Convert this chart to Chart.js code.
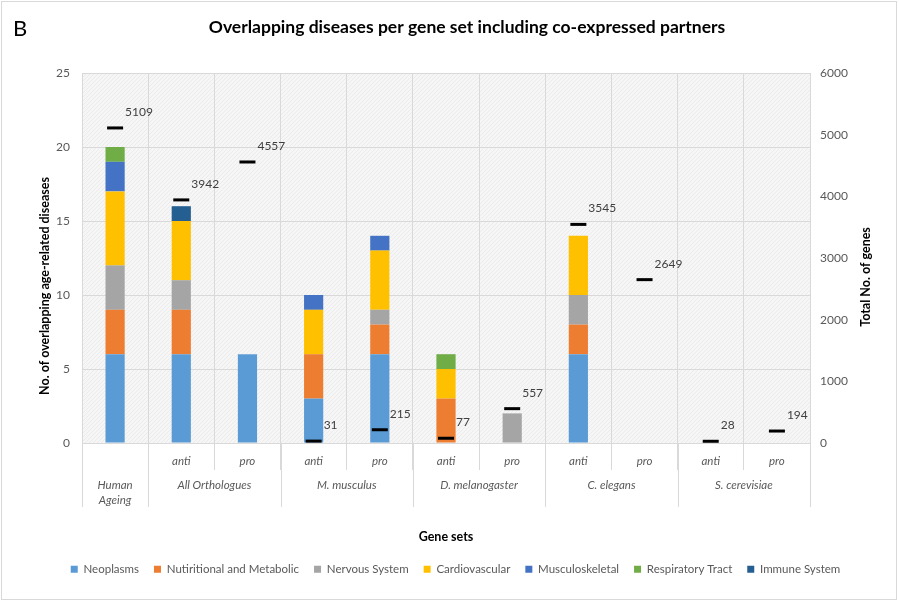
<!DOCTYPE html>
<html>
<head>
<meta charset="utf-8">
<script src="https://cdn.jsdelivr.net/npm/chart.js@4.4.1/dist/chart.umd.min.js"></script>
<style>
html,body{margin:0;padding:0;background:#fff}
</style>
</head>
<body>
<canvas id="c" width="899" height="602"></canvas>
<script>
// x axis: two label rows
const subLabels = ['', 'anti', 'pro', 'anti', 'pro', 'anti', 'pro', 'anti', 'pro', 'anti', 'pro']
const groupNames = [['Human', 'Ageing'], ['All Orthologues'], ['M. musculus'], ['D. melanogaster'], ['C. elegans'], ['S. cerevisiae']]
const groupSizes = [1, 2, 2, 2, 2, 2]

// stacked disease counts (left axis)
const neoplasms      = [6, 6, 6, 3, 6, 0, 0, 6, 0, 0, 0]
const nutritional    = [3, 3, 0, 3, 2, 3, 0, 2, 0, 0, 0]
const nervous        = [3, 2, 0, 0, 1, 0, 2, 2, 0, 0, 0]
const cardiovascular = [5, 4, 0, 3, 4, 2, 0, 4, 0, 0, 0]
const musculo        = [2, 0, 0, 1, 1, 0, 0, 0, 0, 0, 0]
const respiratory    = [1, 0, 0, 0, 0, 1, 0, 0, 0, 0, 0]
const immune         = [0, 1, 0, 0, 0, 0, 0, 0, 0, 0, 0]

// total genes (right axis)
const totalGenes = [5109, 3942, 4557, 31, 215, 77, 557, 3545, 2649, 28, 194]

const leftMax = 25, leftStep = 5
const rightMax = 6000, rightStep = 1000

// category names built from the groups
let labels = []
groupNames.forEach((g, gi) => {
    for (let k = 0; k < groupSizes[gi]; k++) labels.push(g.join(' ') + ' ' + subLabels[labels.length])
})

const PAD = {left: 22, right: 10, top: 73, bottom: 17}
const AREA = {left: 82, right: 810, bottom: 443}
const GREY = '#595959'
const FONT = 'Lato'

Chart.defaults.font.family = FONT
Chart.defaults.color = GREY

function hatch(){
    const p = document.createElement('canvas')
    p.width = 4; p.height = 4
    const c = p.getContext('2d')
    c.fillStyle = '#f6f6f6'
    c.fillRect(0, 0, 4, 4)
    c.fillStyle = '#ebebeb'
    for (let i = 0; i < 4; i++) c.fillRect(i, 3 - i, 1, 1)
    return p
}

const decor = {
    id: 'decor',
    beforeDraw(chart){
        const {ctx, chartArea: a} = chart
        ctx.save()
        ctx.fillStyle = '#fff'
        ctx.fillRect(0, 0, chart.width, chart.height)
        ctx.fillStyle = ctx.createPattern(hatch(), 'repeat')
        ctx.fillRect(a.left, a.top, a.right - a.left, a.bottom - a.top)
        ctx.strokeStyle = '#d9d9d9'
        ctx.lineWidth = 1
        ctx.strokeRect(1.5, 1.5, chart.width - 4, chart.height - 4)
        ctx.restore()
    },
    afterDatasetsDraw(chart){
        // values next to the gene-count markers
        const {ctx} = chart
        const meta = chart.getDatasetMeta(7)
        ctx.save()
        ctx.font = '12px ' + FONT
        ctx.fillStyle = '#404040'
        ctx.textAlign = 'left'
        ctx.textBaseline = 'middle'
        meta.data.forEach((pt, i) => {
            ctx.fillText(totalGenes[i], pt.x + 10, pt.y - 16)
        })
        ctx.restore()
    },
    afterDraw(chart){
        const {ctx, chartArea: a} = chart
        const x = chart.scales.x
        ctx.save()

        // title
        ctx.fillStyle = '#000'
        ctx.textBaseline = 'middle'
        ctx.textAlign = 'left'
        ctx.font = '22px ' + FONT
        ctx.fillText('B', 13, 29)
        ctx.textAlign = 'center'
        ctx.font = 'bold 17.5px ' + FONT
        ctx.fillText('Overlapping diseases per gene set including co-expressed partners', 467, 27)

        // axis titles
        ctx.font = 'bold 12.5px ' + FONT
        ctx.fillText('Gene sets', (a.left + a.right) / 2, 537)
        ctx.save()
        ctx.translate(45, 286)
        ctx.rotate(-Math.PI / 2)
        ctx.fillText('No. of overlapping age-related diseases', 0, 0)
        ctx.restore()
        ctx.save()
        ctx.translate(866, 277)
        ctx.rotate(-Math.PI / 2)
        ctx.fillText('Total No. of genes', 0, 0)
        ctx.restore()

        // category labels
        ctx.fillStyle = GREY
        ctx.font = 'italic 11.5px ' + FONT
        subLabels.forEach((s, i) => ctx.fillText(s, x.getPixelForValue(i), 461))

        const edge = i => {
            if (i === 0) return a.left
            if (i === labels.length) return a.right
            return (x.getPixelForValue(i - 1) + x.getPixelForValue(i)) / 2
        }
        ctx.strokeStyle = '#d9d9d9'
        ctx.lineWidth = 1
        let start = 0
        groupNames.forEach((g, gi) => {
            const end = start + groupSizes[gi]
            const cx = (edge(start) + edge(end)) / 2
            g.forEach((line, li) => ctx.fillText(line, cx, 485 + li * 15))
            ;[start, end].forEach(b => {
                const px = Math.round(edge(b)) + 0.5
                ctx.beginPath()
                ctx.moveTo(px, a.bottom)
                ctx.lineTo(px, 507)
                ctx.stroke()
            })
            start = end
        })
        ctx.restore()
    }
}

const bar = (label, data, color) => ({
    type: 'bar', label, data, backgroundColor: color, borderWidth: 0,
    yAxisID: 'y', order: 1, barPercentage: 0.29, categoryPercentage: 1
})

new Chart(document.getElementById('c'), {
    data: {
        labels,
        datasets: [
            bar('Neoplasms', neoplasms, '#5b9bd5'),
            bar('Nutiritional and Metabolic', nutritional, '#ed7d31'),
            bar('Nervous System', nervous, '#a5a5a5'),
            bar('Cardiovascular', cardiovascular, '#ffc000'),
            bar('Musculoskeletal', musculo, '#4472c4'),
            bar('Respiratory Tract', respiratory, '#70ad47'),
            bar('Immune System', immune, '#255e91'),
            {
                type: 'line', label: 'Total', data: totalGenes, yAxisID: 'y1', order: 0,
                showLine: false, pointStyle: 'line', pointRadius: 8, pointHoverRadius: 8,
                pointBorderWidth: 3, borderColor: '#000', backgroundColor: '#000'
            }
        ]
    },
    options: {
        responsive: false,
        animation: false,
        devicePixelRatio: 1,
        layout: {padding: PAD},
        plugins: {
            tooltip: {enabled: false},
            legend: {
                position: 'bottom',
                labels: {
                    boxWidth: 7, boxHeight: 7, padding: 15,
                    font: {size: 11.5}, color: GREY,
                    filter: item => item.datasetIndex < 7
                }
            }
        },
        scales: {
            x: {
                stacked: true,
                ticks: {display: false},
                grid: {offset: true, color: '#d9d9d9', tickLength: 27, tickColor: '#d9d9d9'},
                border: {color: '#d9d9d9'},
                afterFit(s){ s.height = 602 - PAD.bottom - s.chart.legend.height - AREA.bottom }
            },
            y: {
                stacked: true, min: 0, max: leftMax,
                ticks: {stepSize: leftStep, padding: 12, font: {size: 12}},
                grid: {color: '#d9d9d9', drawTicks: false},
                border: {display: false},
                afterFit(s){ s.width = AREA.left - PAD.left }
            },
            y1: {
                position: 'right', min: 0, max: rightMax,
                ticks: {stepSize: rightStep, padding: 10, font: {size: 12}, callback: v => String(v)},
                grid: {display: false, drawTicks: false},
                border: {display: false},
                afterFit(s){ s.width = 899 - PAD.right - AREA.right }
            }
        }
    },
    plugins: [decor]
})
</script>
</body>
</html>
